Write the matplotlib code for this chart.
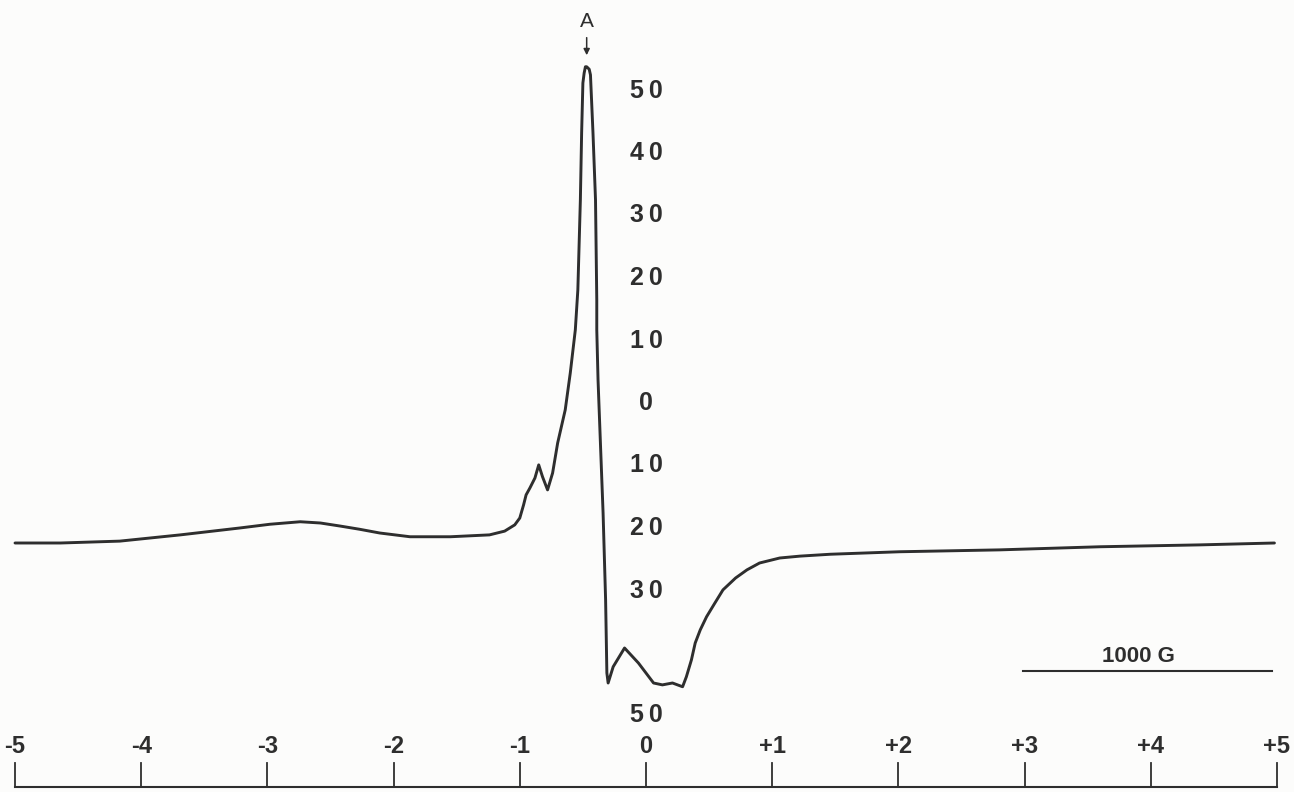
import matplotlib.pyplot as plt

# field position in scale units (1 unit = 500 G) and signal amplitude
field = [-5.0, -4.64, -4.17, -3.69, -3.22, -2.98, -2.74, -2.58, -2.42, -2.27,
         -2.11, -1.87, -1.55, -1.24, -1.12, -1.04, -1.00, -0.97, -0.95, -0.92,
         -0.88, -0.85, -0.82, -0.78, -0.74, -0.70, -0.64, -0.60, -0.56, -0.54,
         -0.52, -0.51, -0.50, -0.49, -0.48, -0.47, -0.45, -0.44, -0.42, -0.40,
         -0.39, -0.39, -0.38, -0.36, -0.34, -0.32, -0.31, -0.30, -0.26, -0.17,
         -0.06, 0.06, 0.13, 0.21, 0.29, 0.32, 0.36, 0.39, 0.43, 0.48,
         0.54, 0.61, 0.71, 0.80, 0.90, 1.06, 1.22, 1.46, 2.01, 2.80,
         3.60, 4.39, 4.98]
signal = [-22.4, -22.4, -22.1, -21.1, -20.0, -19.4, -19.0, -19.2, -19.7, -20.2,
          -20.8, -21.4, -21.4, -21.1, -20.5, -19.5, -18.4, -16.3, -14.7, -13.6,
          -12.0, -9.9, -11.8, -13.9, -11.2, -6.4, -1.1, 4.8, 11.7, 18.1,
          32.5, 43.2, 51.2, 52.8, 53.8, 53.8, 53.4, 52.5, 43.2, 32.5,
          16.5, 11.7, 3.7, -7.0, -17.6, -31.5, -43.2, -44.8, -42.2, -39.2,
          -41.6, -44.8, -45.1, -44.8, -45.4, -43.8, -41.1, -38.4, -36.3, -34.2,
          -32.2, -29.9, -28.0, -26.7, -25.6, -24.8, -24.5, -24.2, -23.8, -23.5,
          -23.0, -22.7, -22.4]

scale_pos = [-5, -4, -3, -2, -1, 0, 1, 2, 3, 4, 5]
scale_labels = ['-5', '-4', '-3', '-2', '-1', '0', '+1', '+2', '+3', '+4', '+5']
amp_pos = [50, 40, 30, 20, 10, 0, -10, -20, -30, -50]
amp_labels = ['50', '40', '30', '20', '10', '0', '10', '20', '30', '50']

ink = '#2e2e2e'
fnt = 'Liberation Sans'

fig = plt.figure(figsize=(12.94, 7.92), dpi=100)
fig.patch.set_facecolor('#fcfcfb')
ax = fig.add_axes([0, 0, 1, 1])
ax.set_facecolor('#fcfcfb')
ax.set_xlim(-5.119, 5.135)
ax.set_ylim(-62.24, 64.48)
ax.axis('off')

# spectrum
ax.plot(field, signal, color=ink, lw=2.1, solid_joinstyle='round', solid_capstyle='round')

# peak marker
ax.text(-0.47, 61.0, 'A', ha='center', va='center', fontsize=15, color=ink, family=fnt)
ax.annotate('', xy=(-0.47, 55.2), xytext=(-0.47, 58.9),
            arrowprops=dict(arrowstyle='-|>', color=ink, lw=1.1, mutation_scale=9))

# amplitude labels down the middle
for yv, lab in zip(amp_pos, amp_labels):
    ax.text(0.0, yv, '\u2009'.join(lab) if len(lab) > 1 else lab, ha='center', va='center',
            fontsize=18, fontweight='bold', color=ink, family=fnt)

# bottom field scale
y_line = -61.4
ax.plot([-5, 5], [y_line, y_line], color=ink, lw=1.5)
for xv, lab in zip(scale_pos, scale_labels):
    ax.plot([xv, xv], [y_line, -57.6], color=ink, lw=1.3)
    ax.text(xv, -55.0, lab, ha='center', va='center', fontsize=17,
            fontweight='bold', color=ink, family=fnt)

# 1000 G bar
ax.plot([2.99, 4.96], [-42.9, -42.9], color=ink, lw=1.5)
ax.text(3.9, -40.6, '1000 G', ha='center', va='center', fontsize=16,
        fontweight='bold', color=ink, family=fnt)

fig.savefig('out.png', dpi=100, facecolor=fig.get_facecolor())
